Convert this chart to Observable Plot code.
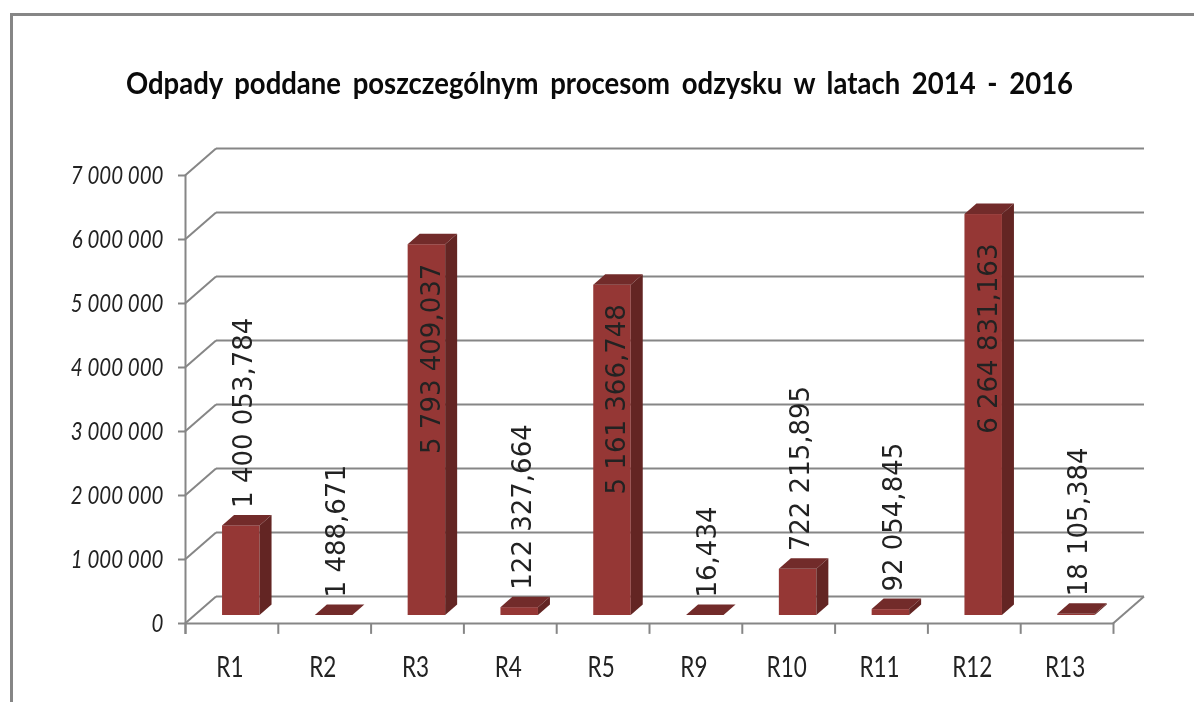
<!DOCTYPE html>
<html lang="pl">
<head>
<meta charset="utf-8">
<script src="https://cdn.jsdelivr.net/npm/d3@7"></script>
<script src="https://cdn.jsdelivr.net/npm/@observablehq/plot@0.6"></script>
<style>
html,body{margin:0;padding:0;background:#fff;overflow:hidden}
#wrap{position:relative;width:1194px;height:702px;overflow:hidden;filter:blur(0.5px)}
#frame{position:absolute;left:10px;top:13px;width:1200px;height:720px;border:3px solid #868686;box-sizing:border-box}
#title{position:absolute;left:0;top:66px;width:1199px;text-align:center;font:700 27.5px Lato,sans-serif;word-spacing:5px;color:#0a0a0a;white-space:nowrap;transform:scaleY(1.14);transform-origin:center}
#chart{position:absolute;left:0;top:0}
svg{display:block;background:transparent!important}
</style>
</head>
<body>
<div id="wrap">
  <div id="frame"></div>
  <div id="chart"></div>
  <div id="title">Odpady poddane poszczególnym procesom odzysku w latach 2014 - 2016</div>
</div>
<script>
const categories = ["R1","R2","R3","R4","R5","R9","R10","R11","R12","R13"];
const values = [1400053.784,1488.671,5793409.037,122327.664,5161366.748,16.434,722215.895,92054.845,6264831.163,18105.384];
const yTicks = [0,1000000,2000000,3000000,4000000,5000000,6000000,7000000];

const pl = d3.formatLocale({decimal:",",thousands:" ",grouping:[3],currency:["",""]});
const fmtTick = pl.format(",.0f");
const fmtVal = pl.format(",.3f");
const rows = categories.map((c,i)=>({c,v:values[i]}));
const inside = ["R3","R5"], insideHigh = ["R12"];
const outsideRows = rows.filter(r=>!inside.includes(r.c)&&!insideHigh.includes(r.c));

const GRID="#868686", FRONT="#953735", TOP="#722b2a", SIDE="#632523";
const wallX=31, wallY=27;      // depth of the chart box
const barDX=9.4, barDY=-8;     // bar placement inside the box
const sideX=12, sideY=10.5;    // depth of each bar

function extrude(index, scales, vals, dims, ctx, next){
  const g = next(index, scales, vals, dims, ctx);
  d3.select(g).selectAll("rect").each(function(){
    const x=+this.getAttribute("x"), y=+this.getAttribute("y"),
          w=+this.getAttribute("width"), h=+this.getAttribute("height");
    const poly=(pts,fill)=>d3.select(g).append("polygon").attr("points",pts.map(p=>p.join(",")).join(" ")).attr("fill",fill);
    poly([[x,y],[x+sideX,y-sideY],[x+w+sideX,y-sideY],[x+w,y]],TOP);
    poly([[x+w,y],[x+w+sideX,y-sideY],[x+w+sideX,y+h-sideY],[x+w,y+h]],SIDE);
  });
  return g;
}
function diagonals(index, scales, vals, dims, ctx, next){
  const g = next(index, scales, vals, dims, ctx);
  const lines = Array.from(g.querySelectorAll("line"));
  lines.forEach((l,i)=>{
    const x=+l.getAttribute("x1"), y=+l.getAttribute("y1"), x2=+l.getAttribute("x2");
    d3.select(g).append("line").attr("x1",x-wallX).attr("y1",y+wallY).attr("x2",x).attr("y2",y);
    if (yTicks[index[i]]===0) d3.select(g).append("line").attr("x1",x2-wallX).attr("y1",y+wallY).attr("x2",x2).attr("y2",y);
  });
  return g;
}
function stretchY(k){
  return (index, scales, vals, dims, ctx, next)=>{
    const g = next(index, scales, vals, dims, ctx);
    g.querySelectorAll("text").forEach(t=>t.setAttribute("transform",(t.getAttribute("transform")||"")+` scale(1,${k})`));
    return g;
  };
}

const inset=(92.8-37.5)/2, tickDown=-170000, half=46.4;
const labelStyle={x:"c",y:"v",rotate:-90,fontSize:26,fontFamily:"DejaVu Sans",fill:"#222",lineAnchor:"middle"};

const plot = Plot.plot({
  width:1194,height:702,marginTop:175,marginBottom:79,marginLeft:185,marginRight:81,
  style:{background:"transparent",overflow:"visible"},
  x:{type:"band",domain:categories,padding:0,round:false,label:null},
  y:{domain:[0,7000000],label:null},
  marks:[
    Plot.ruleY(yTicks,{stroke:GRID,strokeWidth:2,dx:wallX,dy:-wallY,render:diagonals}),
    Plot.ruleY([0],{stroke:GRID,strokeWidth:2}),
    Plot.ruleX(categories.slice(0,1),{x:d=>d,y1:tickDown,y2:7000000,dx:-half,stroke:GRID,strokeWidth:2}),
    Plot.ruleX(categories,{x:d=>d,y1:tickDown,y2:0,dx:-half,stroke:GRID,strokeWidth:2}),
    Plot.ruleX(categories.slice(-1),{x:d=>d,y1:tickDown,y2:0,dx:half,stroke:GRID,strokeWidth:2}),
    Plot.axisY({ticks:yTicks,tickFormat:fmtTick,tickSize:7,tickPadding:15,stroke:GRID,strokeWidth:2,fontSize:20.5,fontStyle:"italic",fontFamily:"Lato",label:null,color:"#222",render:stretchY(1.22)}),
    Plot.axisX({tickSize:0,tickPadding:33,fontSize:22.5,dx:-2,fontFamily:"Lato",label:null,color:"#222",render:stretchY(1.28)}),
    Plot.barY(rows,{x:"c",y:"v",fill:FRONT,insetLeft:inset,insetRight:inset,dx:barDX,dy:barDY,render:extrude}),
    Plot.text(outsideRows,{...labelStyle,text:d=>fmtVal(d.v).replace(/,?0+$/,""),textAnchor:"start",dx:12,dy:-26}),
    Plot.text(rows.filter(r=>inside.includes(r.c)),{...labelStyle,text:d=>fmtVal(d.v),textAnchor:"end",dx:14,dy:11}),
    Plot.text(rows.filter(r=>insideHigh.includes(r.c)),{...labelStyle,text:d=>fmtVal(d.v),textAnchor:"end",dx:14,dy:21})
  ]
});
document.getElementById("chart").appendChild(plot);
</script>
</body>
</html>
